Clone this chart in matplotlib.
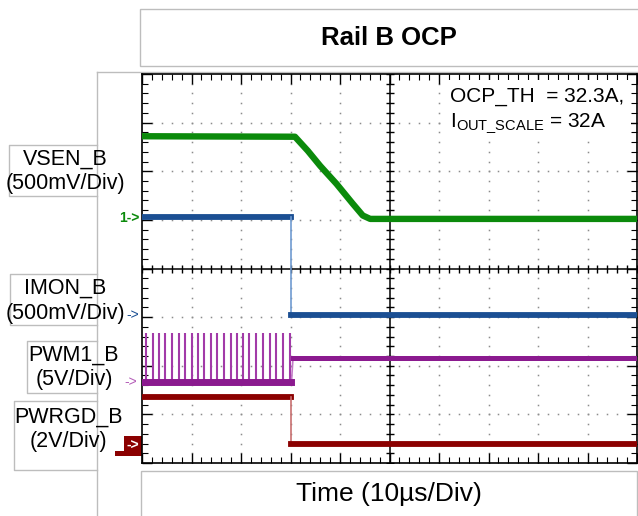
import numpy as np
import matplotlib.pyplot as plt
from matplotlib.patches import Rectangle

plt.rcParams['font.family'] = ['Liberation Sans', 'DejaVu Sans']
plt.rcParams['mathtext.fontset'] = 'custom'
plt.rcParams['mathtext.rm'] = 'Liberation Sans'

# ---- data (time in us, 10 us/div; values in volts) ----
t_fault = 30.2

vsen_t = [0, 30.9, 33.5, 36.0, 39.3, 42.6, 44.6, 46.1, 100]
vsen_v = [0.85, 0.845, 0.70, 0.545, 0.36, 0.155, 0.035, 0.0, 0.0]

imon_pre, imon_post = 1.01, 0.0
pwm_low, pwm_high, pwm_tri = 0.0, 5.0, 2.4
pwrgd_pre, pwrgd_post = 1.9, 0.0

pwm_pulse_t = [0.8, 2.2, 3.4, 4.6, 6.0, 7.5, 8.7, 10.0, 11.3, 12.5, 14.0, 15.2,
               16.6, 17.9, 19.1, 20.5, 21.7, 23.0, 24.4, 25.9, 27.1, 28.4, 29.8]

# volts per division and ground-marker position (div) per channel
scale = {'vsen': 0.5, 'imon': 0.5, 'pwm': 5.0, 'pwrgd': 2.0}
offset = {'vsen': 1.02, 'imon': -0.96, 'pwm': -2.33, 'pwrgd': -3.6}

green, blue, purple, red = '#0b8a0b', '#1b4f93', '#8b1a8f', '#8b0000'


def div(ch, v):
    return offset[ch] + np.asarray(v, dtype=float) / scale[ch]


W, H = 638, 516
fig = plt.figure(figsize=(W / 100, H / 100), dpi=100)

# pixel overlay for boxes and labels
bg = fig.add_axes([0, 0, 1, 1])
bg.set_xlim(0, W); bg.set_ylim(H, 0); bg.axis('off')

# scope screen
ax = fig.add_axes([142 / W, (H - 463) / H, 495 / W, 389 / H])
ax.set_xlim(0, 100); ax.set_ylim(-4, 4)
ax.set_xticks(np.arange(0, 101, 10)); ax.set_xticks(np.arange(0, 101, 2), minor=True)
ax.set_yticks(np.arange(-4, 4.01, 1)); ax.set_yticks(np.arange(-4, 4.01, 0.2), minor=True)
ax.tick_params(which='both', direction='in', top=True, right=True,
               labelbottom=False, labelleft=False)
ax.tick_params(which='major', length=7, width=1)
ax.tick_params(which='minor', length=4, width=0.8)
for s in ax.spines.values():
    s.set_linewidth(1.2)

# dotted graticule
dots_y = np.arange(-4, 4.01, 0.2)
for x in [10, 20, 30, 40, 60, 70, 80, 90]:
    ax.plot(np.full_like(dots_y, x), dots_y, ls='none', marker='s', ms=1.1,
            mew=0, color='#8c8c8c', zorder=1)
dots_x = np.arange(0, 100.1, 2)
for y in [-3, -2, -1, 1, 2, 3]:
    ax.plot(dots_x, np.full_like(dots_x, y), ls='none', marker='s', ms=1.1,
            mew=0, color='#8c8c8c', zorder=1)

# centre crosshair with ticks
ax.axvline(50, color='k', lw=1.1, zorder=2)
ax.axhline(0, color='k', lw=1.1, zorder=2)
ax.plot(dots_x, np.zeros_like(dots_x), ls='none', marker='|', ms=6, mew=1, color='k', zorder=2)
ax.plot(np.full_like(dots_y, 50), dots_y, ls='none', marker='_', ms=6, mew=1, color='k', zorder=2)

# white patch behind the annotation
ax.add_patch(Rectangle((443, 80), 188, 60, transform=bg.transData,
                       facecolor='white', edgecolor='none', zorder=3))
ax.text(450, 96, 'OCP_TH  = 32.3A,', transform=bg.transData, fontsize=15,
        va='center', ha='left', zorder=4)
ax.text(450, 124, r'I$_{\mathrm{OUT\_SCALE}}$ = 32A', transform=bg.transData,
        fontsize=15, va='center', ha='left', zorder=4)

# IMON
ax.plot([0, t_fault], div('imon', [imon_pre, imon_pre]), color=blue, lw=4.2, zorder=5)
ax.plot([t_fault, t_fault], div('imon', [imon_pre, imon_post]), color='#6f9bd1', lw=1.2, zorder=5)
ax.plot([t_fault, 100], div('imon', [imon_post, imon_post]), color=blue, lw=4.2, zorder=5)

# VSEN
ax.plot(vsen_t, div('vsen', vsen_v), color=green, lw=4.6, zorder=6)

# PWM
ax.vlines(pwm_pulse_t, div('pwm', pwm_low), div('pwm', pwm_high), color='#a23aa8', lw=1.5, zorder=5)
ax.plot([0, t_fault], div('pwm', [pwm_low, pwm_low]), color=purple, lw=5, zorder=6)
ax.plot([t_fault, t_fault + 0.3], div('pwm', [pwm_low, pwm_tri]), color='#c27ac6', lw=1.2, zorder=5)
ax.plot([t_fault + 0.3, 100], div('pwm', [pwm_tri, pwm_tri]), color=purple, lw=3.6, zorder=6)

# PWRGD
ax.plot([0, t_fault], div('pwrgd', [pwrgd_pre, pwrgd_pre]), color=red, lw=4.2, zorder=5)
ax.plot([t_fault, t_fault], div('pwrgd', [pwrgd_pre, pwrgd_post]), color='#c87070', lw=1.2, zorder=5)
ax.plot([t_fault, 100], div('pwrgd', [pwrgd_post, pwrgd_post]), color=red, lw=4.2, zorder=5)

# ---- surrounding layout ----
grey = '#bdbdbd'
bg.plot([97, W], [72, 72], color=grey, lw=1)
bg.plot([97, 97], [72, H], color=grey, lw=1)

bg.add_patch(Rectangle((140, 9), 500, 57, facecolor='white', edgecolor=grey, lw=1))
bg.text(389, 38, 'Rail B OCP', fontsize=18.5, fontweight='bold', ha='center', va='center')

bg.add_patch(Rectangle((141, 471), 496, 60, facecolor='white', edgecolor=grey, lw=1))
bg.text(389, 494, 'Time (10µs/Div)', fontsize=19, ha='center', va='center')

labels = [('VSEN_B', '(500mV/Div)', 9, 145, 196, 65, 159, 184),
          ('IMON_B', '(500mV/Div)', 10, 274, 325, 65, 288, 313),
          ('PWM1_B', '(5V/Div)', 27, 341, 393, 74, 355, 379),
          ('PWRGD_B', '(2V/Div)', 14, 401, 470, 68, 417, 442)]
for name, unit, x0, y0, y1, xc, ya, yb in labels:
    bg.add_patch(Rectangle((x0, y0), 130 - x0, y1 - y0, facecolor='white', edgecolor='none'))
    bg.plot([97, x0, x0, 97], [y0, y0, y1, y1], color=grey, lw=1)
    bg.text(xc, ya, name, fontsize=15.5, ha='center', va='center')
    bg.text(xc, yb, unit, fontsize=15.5, ha='center', va='center')

# ground markers
bg.text(129, 218, '1->', color=green, fontsize=10, fontweight='bold', ha='center', va='center')
bg.text(133, 315, '->', color=blue, fontsize=10, ha='center', va='center')
bg.text(131, 382, '->', color='#b45cb8', fontsize=10, ha='center', va='center')
bg.add_patch(Rectangle((124, 436), 18, 20, facecolor=red, edgecolor='none'))
bg.add_patch(Rectangle((115, 451), 10, 5, facecolor=red, edgecolor='none'))
bg.text(133, 446, '->', color='white', fontsize=10, fontweight='bold', ha='center', va='center')

fig.savefig('out.png', dpi=100)
